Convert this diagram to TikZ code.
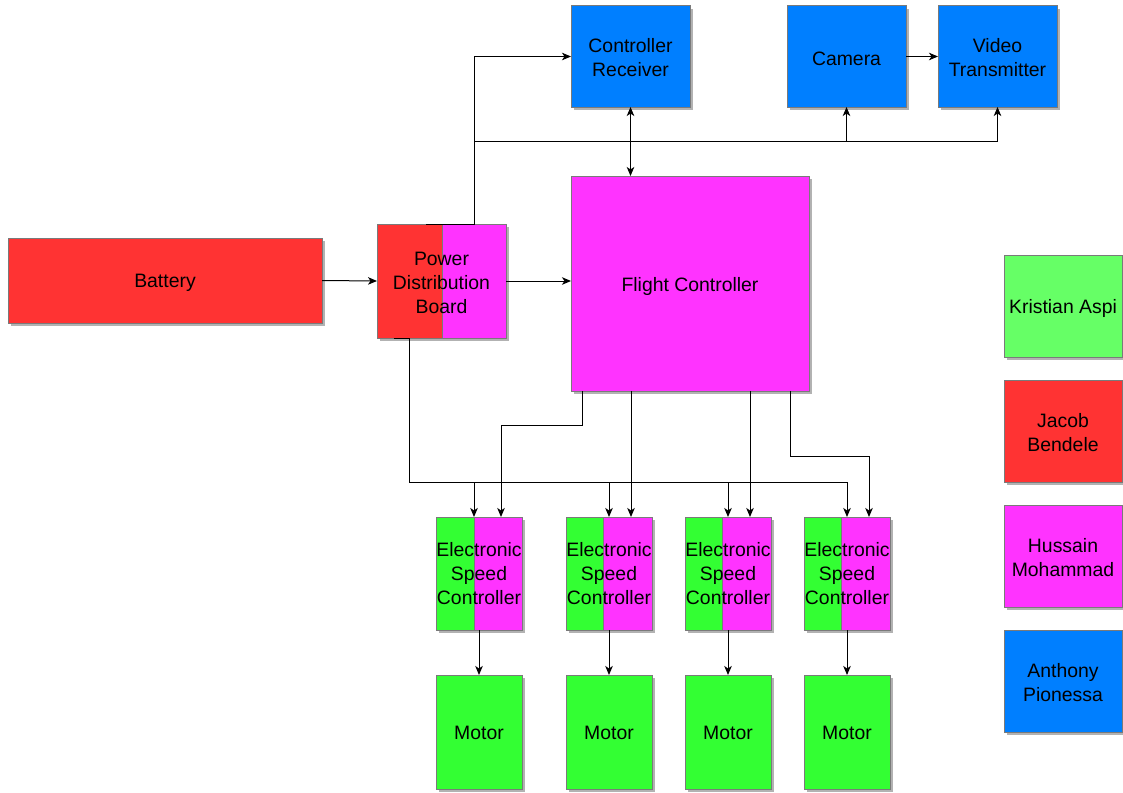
\documentclass[tikz,border=0pt]{standalone}
\usepackage{fontspec}
\setmainfont{Liberation Sans}
\usetikzlibrary{arrows.meta,shadows}

\definecolor{cred}{HTML}{FF3333}
\definecolor{cmag}{HTML}{FF33FF}
\definecolor{cgrn}{HTML}{33FF33}
\definecolor{clgrn}{HTML}{66FF66}
\definecolor{cblue}{HTML}{007FFF}
\definecolor{cedge}{HTML}{7A7A7A}

\tikzset{
  block/.style={draw=cedge, line width=1pt, rectangle, inner sep=0pt, outer sep=0pt,
    drop shadow={shadow xshift=3pt, shadow yshift=-3pt, opacity=0.3, fill=black}},
  lbl/.style={rectangle, inner sep=0pt, outer sep=0pt, align=center,
    font=\fontsize{19.4}{24}\selectfont},
  lblone/.style={lbl, yshift=-2.5pt},
  lbltwo/.style={lbl, yshift=-1.5pt},
  wire/.style={draw=black, line width=1pt},
  arr/.style={wire, -{Stealth[length=9pt,width=7.5pt,inset=2.5pt]}},
  arrtwo/.style={wire, {Stealth[length=9pt,width=7.5pt,inset=2.5pt]}-{Stealth[length=9pt,width=7.5pt,inset=2.5pt]}},
}

\begin{document}
\begin{tikzpicture}[x=1pt, y=-1pt]
  \fill[white] (0,0) rectangle (1123,792);
  \useasboundingbox (0,0) rectangle (1123,792);

  % power path
  \node[block, fill=cred, minimum width=314pt, minimum height=85pt] (bat) at (165,280.5) {};
  \node[lblone] (batT) at (bat.center) {Battery};
  \node[block, fill=cred, minimum width=65pt, minimum height=114pt] (pdbL) at (409.5,281) {};
  \node[block, fill=cmag, minimum width=64pt, minimum height=114pt] (pdbR) at (474,281) {};
  \node[lbltwo] (pdb) at (441.5,281) {Power\\Distribution\\Board};

  % flight electronics
  \node[block, fill=cmag, minimum width=238pt, minimum height=215pt] (fc) at (690,283.5) {};
  \node[lblone] (fcT) at (fc.center) {Flight Controller};
  \node[block, fill=cblue, minimum width=119pt, minimum height=101pt] (cr) at (630.5,56.5) {};
  \node[lbltwo] (crT) at (cr.center) {Controller\\Receiver};
  \node[block, fill=cblue, minimum width=119pt, minimum height=101pt] (cam) at (846.5,56.5) {};
  \node[lblone] (camT) at (cam.center) {Camera};
  \node[block, fill=cblue, minimum width=119pt, minimum height=101pt] (vt) at (997.5,56.5) {};
  \node[lbltwo] (vtT) at (vt.center) {Video\\Transmitter};

  % speed controllers (two owners each)
  \node[block, fill=cgrn, minimum width=38pt, minimum height=113pt] (esc1g) at (455,573.5) {};
  \node[block, fill=cmag, minimum width=48pt, minimum height=113pt] (esc1m) at (498,573.5) {};
  \node[lbl, minimum width=86pt, minimum height=113pt] (esc1) at (479,573.5) {Electronic\\Speed\\Controller};

  \node[block, fill=cgrn, minimum width=37pt, minimum height=113pt] (esc2g) at (584.5,573.5) {};
  \node[block, fill=cmag, minimum width=49pt, minimum height=113pt] (esc2m) at (627.5,573.5) {};
  \node[lbl, minimum width=86pt, minimum height=113pt] (esc2) at (609,573.5) {Electronic\\Speed\\Controller};

  \node[block, fill=cgrn, minimum width=37pt, minimum height=113pt] (esc3g) at (703.5,573.5) {};
  \node[block, fill=cmag, minimum width=49pt, minimum height=113pt] (esc3m) at (746.5,573.5) {};
  \node[lbl, minimum width=86pt, minimum height=113pt] (esc3) at (728,573.5) {Electronic\\Speed\\Controller};

  \node[block, fill=cgrn, minimum width=37pt, minimum height=113pt] (esc4g) at (822.5,573.5) {};
  \node[block, fill=cmag, minimum width=49pt, minimum height=113pt] (esc4m) at (865.5,573.5) {};
  \node[lbl, minimum width=86pt, minimum height=113pt] (esc4) at (847,573.5) {Electronic\\Speed\\Controller};

  % motors
  \foreach \i/\x in {1/479, 2/609, 3/728, 4/847} {
    \node[block, fill=cgrn, minimum width=86pt, minimum height=114pt] (mot\i) at (\x,732) {};
    \node[lbl, yshift=-1pt] (mot\i T) at (mot\i.center) {Motor};
  }

  % legend
  \node[block, fill=clgrn, minimum width=118pt, minimum height=102pt] (lg1) at (1063,306) {};
  \node[lblone] (lg1T) at (lg1.center) {Kristian Aspi};
  \node[block, fill=cred,  minimum width=118pt, minimum height=102pt] (lg2) at (1063,431) {};
  \node[lbltwo] (lg2T) at (lg2.center) {Jacob\\Bendele};
  \node[block, fill=cmag,  minimum width=118pt, minimum height=102pt] (lg3) at (1063,556) {};
  \node[lbltwo] (lg3T) at (lg3.center) {Hussain\\Mohammad};
  \node[block, fill=cblue, minimum width=118pt, minimum height=102pt] (lg4) at (1063,681) {};
  \node[lbltwo] (lg4T) at (lg4.center) {Anthony\\Pionessa};

  % bus rails
  \coordinate (topbus) at (0,141);
  \coordinate (escbus) at (0,482);

  % power connections
  \draw[arr] (bat.east) -- (pdbL.west);
  \draw[arr] (pdbR.east) -- (pdbR.east -| fc.west);
  \draw[arr] ([xshift=-48pt]pdbR.north) -- (pdbR.north) -- (pdbR.north |- cr.west) -- (cr.west);
  \draw[arr] (pdbR.north |- topbus) -| (vt.south);
  \draw[arr] (cam.south |- topbus) -- (cam.south);
  \draw[arrtwo] (cr.south) -- (cr.south |- fc.north);
  \draw[arr] (cam.east) -- (vt.west);

  \draw[arr] ([xshift=-16pt]pdbL.south) -- (pdbL.south) -- (pdbL.south |- escbus) -| (esc4.north);
  \draw[arr] (esc1g.north east |- escbus) -- (esc1g.north east);
  \draw[arr] (esc2.north |- escbus) -- (esc2.north);
  \draw[arr] (esc3.north |- escbus) -- (esc3.north);

  % control signals from the flight controller
  \draw[arr] ([xshift=11pt]fc.south west) -- ++(0,34) -| ([xshift=22pt]esc1.north);
  \draw[arr] ([xshift=22pt]esc2.north |- fc.south) -- ([xshift=22pt]esc2.north);
  \draw[arr] ([xshift=22pt]esc3.north |- fc.south) -- ([xshift=22pt]esc3.north);
  \draw[arr] ([xshift=219pt]fc.south west) -- ++(0,65) -| ([xshift=22pt]esc4.north);

  % speed controllers to motors
  \draw[arr] (esc1.south) -- (mot1.north);
  \draw[arr] (esc2.south) -- (mot2.north);
  \draw[arr] (esc3.south) -- (mot3.north);
  \draw[arr] (esc4.south) -- (mot4.north);
\end{tikzpicture}
\end{document}
